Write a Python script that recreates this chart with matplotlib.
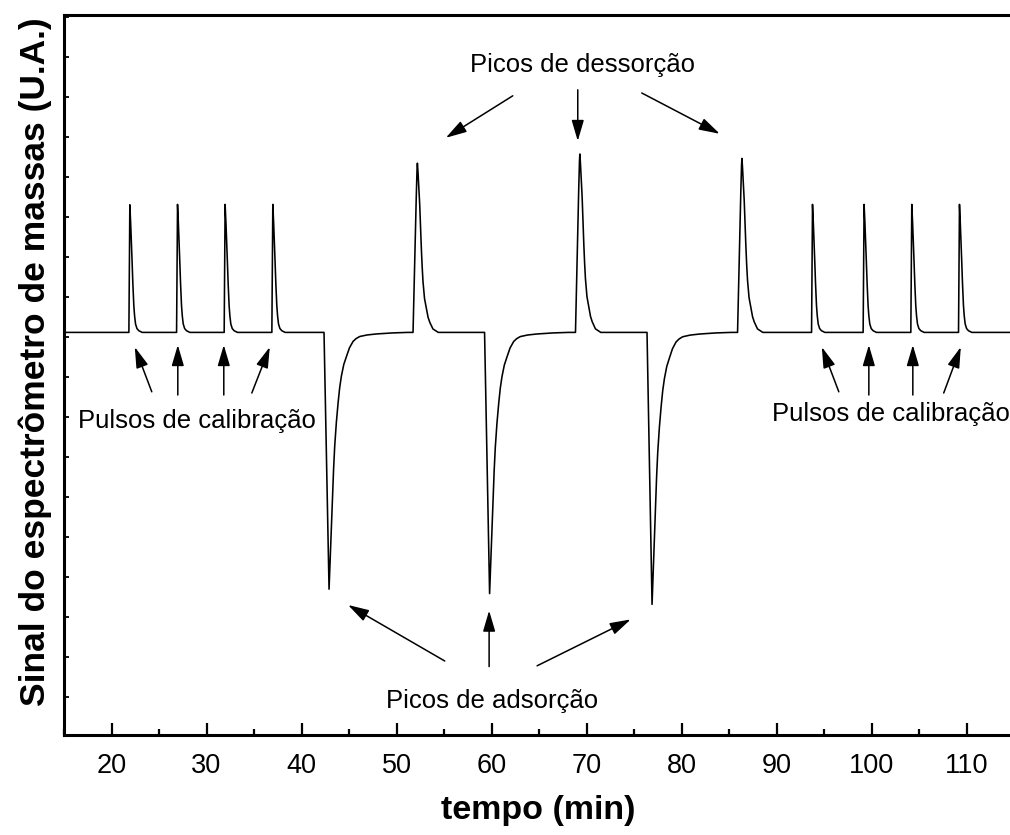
import numpy as np
import matplotlib.pyplot as plt
from matplotlib.ticker import MultipleLocator

plt.rcParams['font.family'] = ['Liberation Sans', 'DejaVu Sans']

# Nível da linha de base do sinal (U.A.)
baseline = 0.105

# Pulsos de calibração: tempo do máximo (min) e altura (U.A.)
calib_t = [21.93, 26.95, 31.96, 36.98, 93.79, 99.22, 104.24, 109.26]
calib_h = [3.19, 3.20, 3.20, 3.20, 3.20, 3.20, 3.20, 3.20]

# Picos de dessorção
desorp_t = [52.2, 69.3, 86.36]
desorp_h = [4.23, 4.46, 4.35]

# Picos de adsorção (mínimos)
adsorp_t = [42.9, 59.8, 76.9]
adsorp_h = [-6.42, -6.53, -6.80]

# Forma de cada tipo de pico: tempo relativo ao máximo (min) e fração da altura
calib_dt = [-0.10, 0.0, 0.09, 0.18, 0.24, 0.32, 0.42, 0.50, 0.60, 0.75, 0.95, 1.30]
calib_fr = [0.0, 1.0, 0.85, 0.68, 0.55, 0.38, 0.21, 0.13, 0.066, 0.03, 0.013, 0.0]

desorp_dt = [-0.46, -0.30, -0.12, -0.04, 0.0, 0.06, 0.14, 0.24, 0.33, 0.42,
             0.50, 0.59, 0.75, 0.95, 1.12, 1.30, 1.64, 2.20]
desorp_fr = [0.0, 0.38, 0.80, 0.96, 1.0, 0.95, 0.86, 0.76, 0.62, 0.49,
             0.39, 0.30, 0.20, 0.14, 0.09, 0.06, 0.02, 0.0]

adsorp_dt = [-0.53, 0.0, 0.07, 0.15, 0.25, 0.36, 0.48, 0.60, 0.77, 0.95,
             1.12, 1.30, 1.55, 1.83, 2.15, 2.53, 2.85, 3.23, 4.00, 5.00,
             6.70, 8.30]
adsorp_fr = [0.0, 1.0, 0.93, 0.86, 0.74, 0.63, 0.53, 0.44, 0.35, 0.275,
             0.215, 0.17, 0.125, 0.094, 0.06, 0.035, 0.024, 0.016, 0.01, 0.006,
             0.002, 0.0]

# Montagem do sinal completo
eventos = ([(t, h, calib_dt, calib_fr) for t, h in zip(calib_t, calib_h)]
           + [(t, h, desorp_dt, desorp_fr) for t, h in zip(desorp_t, desorp_h)]
           + [(t, h, adsorp_dt, adsorp_fr) for t, h in zip(adsorp_t, adsorp_h)])
eventos.sort(key=lambda e: e[0])

tempo = [15.0]
sinal = [baseline]
for t0, h, dts, frs in eventos:
    tempo += [t0 + d for d in dts]
    sinal += [baseline + h * f for f in frs]
tempo.append(115.0)
sinal.append(baseline)

fig = plt.figure(figsize=(10.1, 8.35), dpi=100)
ax = fig.add_axes([64 / 1010, 100 / 835, 950 / 1010, 720 / 835])
ax.plot(tempo, sinal, color='black', lw=1.15)

ax.set_xlim(15, 115)
ax.set_ylim(-9.96, 8.04)
ax.xaxis.set_major_locator(MultipleLocator(10))
ax.xaxis.set_minor_locator(MultipleLocator(5))
ax.yaxis.set_major_locator(MultipleLocator(1))
ax.tick_params(axis='x', which='major', direction='in', length=8.6, width=1.6,
               labelsize=19.5, pad=13)
ax.tick_params(axis='x', which='minor', direction='in', length=4.3, width=1.6)
ax.tick_params(axis='y', which='major', direction='in', length=3.6, width=1.3,
               labelleft=False)
for s in ax.spines.values():
    s.set_linewidth(2.2)

fig.text(35 / 1010, 1 - 361.5 / 835, 'Sinal do espectrômetro de massas (U.A.)',
         rotation=90, fontsize=25.5, fontweight='bold', ha='center', va='center')
fig.text(538.4 / 1010, 1 - 810 / 835, 'tempo (min)', fontsize=24.5,
         fontweight='bold', ha='center', va='center')

# Rótulos e setas
seta = dict(arrowstyle='-|>,head_length=0.85,head_width=0.25', color='black',
            lw=1.1, mutation_scale=15, shrinkA=0, shrinkB=0)

def setas(origens, destinos):
    for (x0, y0), (x1, y1) in zip(origens, destinos):
        ax.annotate('', xy=(x1, y1), xytext=(x0, y0), arrowprops=seta)

ax.text(69.61, 6.79, 'Picos de dessorção', fontsize=18.5, ha='center', va='center')
setas([(62.24, 6.02), (69.08, 6.17), (75.82, 6.09)],
      [(55.19, 4.97), (69.08, 4.89), (84.03, 5.07)])

ax.text(60.03, -9.11, 'Picos de adsorção', fontsize=18.5, ha='center', va='center')
setas([(55.08, -8.11), (59.75, -8.25), (64.80, -8.23)],
      [(44.90, -6.71), (59.75, -6.85), (74.66, -7.07)])

ax.text(29.03, -2.11, 'Pulsos de calibração', fontsize=18.5, ha='center', va='center')
setas([(24.24, -1.38), (26.98, -1.46), (31.82, -1.46), (34.77, -1.41)],
      [(22.45, -0.26), (26.98, -0.21), (31.82, -0.21), (36.66, -0.26)])

ax.text(102.08, -1.93, 'Pulsos de calibração', fontsize=18.5, ha='center', va='center')
setas([(96.56, -1.38), (99.72, -1.46), (104.35, -1.46), (107.60, -1.41)],
      [(94.77, -0.26), (99.72, -0.21), (104.35, -0.21), (109.40, -0.26)])

fig.savefig('out.png', dpi=100)
